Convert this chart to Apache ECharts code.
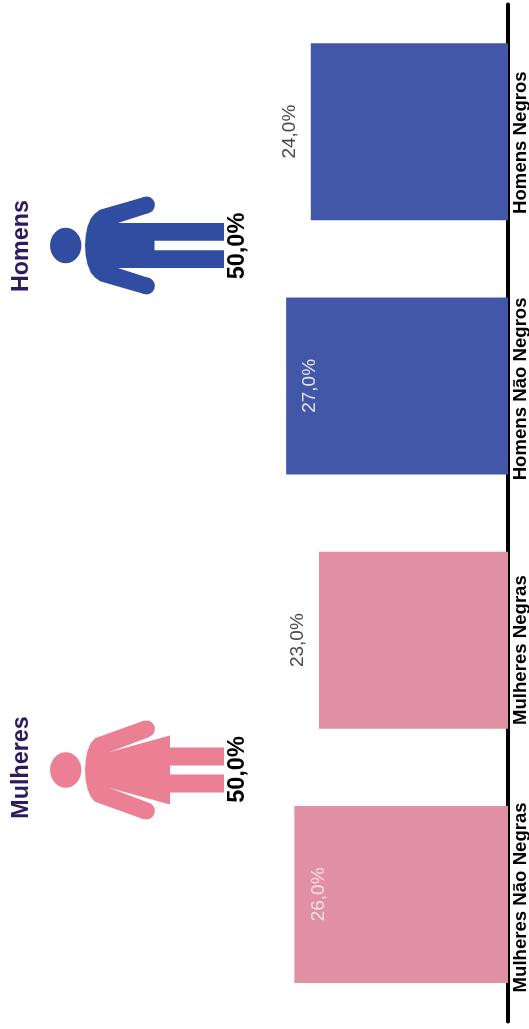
<!DOCTYPE html>
<html><head><meta charset="utf-8">
<style>html,body{margin:0;padding:0;background:#fff}#c{width:529px;height:1029px}</style>
<script src="https://cdn.jsdelivr.net/npm/echarts@6/dist/echarts.min.js"></script>
</head><body><div id="c"></div>
<script>
const categories = ['Mulheres Não Negras','Mulheres Negras','Homens Não Negros','Homens Negros'];
const labelPadRight = [6,20,6,22];
const values = [26, 23, 27, 24];
const barColors = ['#e18fa3','#e18fa3','#4357a9','#4357a9'];
const labelInside = [true,false,true,false];
const labelColors = ['#f6dfe4','#4a4a4a','#dfe2f0','#4a4a4a'];
const groupNames = ['Homens','Mulheres'];
const groupShare = ['50,0%','50,0%'];
const fmt = v => v.toFixed(1).replace('.',',') + '%';
const F = '"Liberation Sans", Arial, sans-serif';

function mirrored(cy, half){
  const top = half.map(p => [p[0], cy + p[1]]);
  const bot = half.slice().reverse().map(p => [p[0], cy - p[1]]);
  return top.concat(bot);
}
const maleHalf = [[85,0],[85.7,-10],[87.5,-19],[91,-27.5],[95,-32],[100,-35.8],[144.2,-48.6],[148.8,-32.4],[118,-22.4],[224,-22.4],[224,-4.7],[154.5,-4.7]];
const femaleHalf = [[85,0],[85.7,-10],[87.5,-19],[90.5,-26.5],[95,-31.8],[143.7,-49.2],[149.3,-33],[109,-17.7],[170,-34.5],[170,-22.4],[224,-22.4],[224,-4.6],[170,-4.6]];

function person(cy, half, color, armCy){
  return [
    {type:'polygon', shape:{points:mirrored(cy, half)}, style:{fill:color}},
    {type:'circle', shape:{cx:146.5, cy:cy-armCy, r:8.4}, style:{fill:color}},
    {type:'circle', shape:{cx:146.5, cy:cy+armCy, r:8.4}, style:{fill:color}},
    {type:'circle', shape:{cx:0, cy:0, r:1}, x:65.7, y:cy, scaleX:15.7, scaleY:17.8, style:{fill:color}}
  ];
}
function vtext(x, y, text, size, color){
  return {type:'text', x, y, rotation:Math.PI/2,
    style:{text, fill:color, font:'bold '+size+'px '+F, align:'center', verticalAlign:'middle'}};
}
const chart = echarts.init(document.getElementById('c'), null, {renderer:'canvas'});
chart.setOption({
  animation:false,
  backgroundColor:'#fff',
  grid:{left:15, right:21, top:4.5, height:1017, outerBoundsMode:'none', containLabel:false},
  xAxis:{type:'value', inverse:true, min:0, max:60, show:false},
  yAxis:{type:'category', position:'right',
    data:categories.map((c,i)=>({value:c, textStyle:{padding:[0,labelPadRight[i],0,0]}})),
    axisLine:{show:true, lineStyle:{color:'#000', width:4}},
    axisTick:{show:false},
    axisLabel:{rotate:90, margin:3, color:'#000', fontSize:18.6, fontWeight:'bold', fontFamily:F, interval:0}},
  series:[{type:'bar', barWidth:177,
    data:values.map((v,i)=>({value:v, itemStyle:{color:barColors[i]},
      label:{show:true, formatter:fmt(v), rotate:90, color:labelColors[i], fontSize:19, fontFamily:F,
        align:'center', verticalAlign:'middle',
        position:labelInside[i]?'insideLeft':'left', distance:labelInside[i]?24:21}}))}],
  graphic:{elements:[
    ...person(245.5, maleHalf, '#314da1', 40.5),
    ...person(770, femaleHalf, '#eb7f94', 41),
    vtext(22, 246, groupNames[0], 23.3, '#2d1b5e'),
    vtext(22, 767.5, groupNames[1], 23.3, '#2d1b5e'),
    vtext(238, 246, groupShare[0], 23.5, '#000'),
    vtext(238, 769.5, groupShare[1], 23.5, '#000')
  ]}
});
</script></body></html>
